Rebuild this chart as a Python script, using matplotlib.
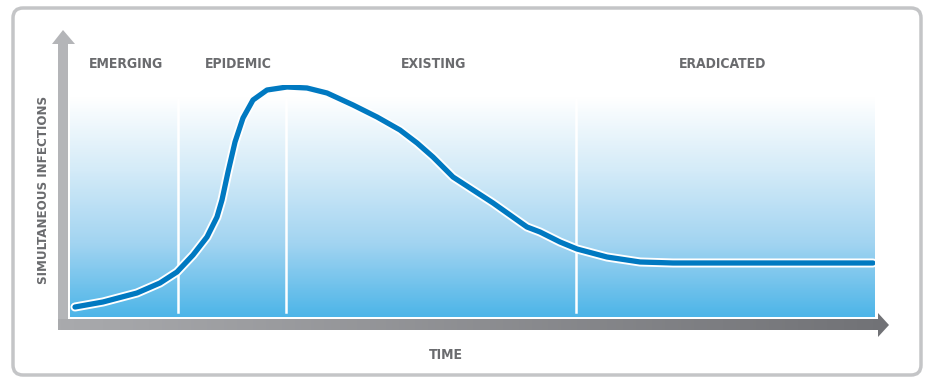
import numpy as np
import matplotlib
matplotlib.use('Agg')
import matplotlib.pyplot as plt
import matplotlib.patheffects as pe
from matplotlib.colors import LinearSegmentedColormap
from matplotlib.patches import FancyBboxPatch, Polygon

# phases, their label positions and the dividers between them (time axis 0-100)
phases = ['EMERGING', 'EPIDEMIC', 'EXISTING', 'ERADICATED']
phase_label_x = [7.0, 20.9, 45.2, 81.1]
phase_dividers = [13.4, 26.8, 62.9]

# simultaneous infections over time (arbitrary units, peak ~100)
time = [0.62, 4.10, 8.32, 11.18, 13.29, 15.28, 17.02, 18.26, 18.88, 19.63,
        20.50, 21.49, 22.73, 24.47, 26.96, 29.44, 31.93, 35.16, 38.14, 40.99,
        43.11, 45.09, 47.58, 52.55, 56.77, 58.39, 60.87, 62.98, 66.71, 70.81,
        74.91, 79.13, 99.75]
infections = [4.31, 6.47, 10.34, 14.66, 19.40, 26.72, 34.48, 43.10, 50.43, 62.50,
              75.43, 85.78, 93.53, 97.84, 99.14, 98.71, 96.55, 91.38, 86.21, 80.60,
              75.00, 68.97, 60.34, 49.14, 38.79, 36.64, 32.33, 29.31, 25.86, 23.71,
              23.28, 23.28, 23.28]

W, H = 929, 377
fig = plt.figure(figsize=(W / 100, H / 100), dpi=100)

# background layer in pixel units for the frame and the axis arrows
bg = fig.add_axes([0, 0, 1, 1])
bg.set_xlim(0, W)
bg.set_ylim(H, 0)
bg.axis('off')

frame = FancyBboxPatch((13, 8), 908, 367, boxstyle='round,pad=0,rounding_size=10',
                       fc='white', ec='#c4c5c7', lw=2.5)
bg.add_patch(frame)

# y arrow (light gray) and x arrow (gray gradient)
bg.add_patch(Polygon([[58, 330], [58, 44], [52, 44], [63, 30], [75, 44], [68, 44], [68, 330]],
                     closed=True, fc='#b4b5b8', ec='none'))
arrow = Polygon([[58, 319], [878, 319], [878, 313], [889, 325], [878, 337], [878, 330], [58, 330]],
                closed=True, fc='none', ec='none')
bg.add_patch(arrow)
xgrad = np.linspace(0, 1, 256).reshape(1, -1)
im = bg.imshow(xgrad, extent=[58, 889, 337, 313], aspect='auto',
               cmap=LinearSegmentedColormap.from_list('g', ['#a9aaad', '#717276']), zorder=1)
im.set_clip_path(arrow)

label_kw = dict(family='DejaVu Sans', stretch='condensed', weight='bold', color='#6a6b6e')
bg.text(44, 190, 'SIMULTANEOUS INFECTIONS', rotation=90, ha='center', va='center',
        fontsize=9.5, **label_kw)
bg.text(446, 355, 'TIME', ha='center', va='center', fontsize=10, **label_kw)

# plot area
x0, x1, ybot, ytop = 70, 875, 317, 85
ax = fig.add_axes([x0 / W, (H - ybot) / H, (x1 - x0) / W, (ybot - ytop) / H])
ax.set_xlim(0, 100)
ax.set_ylim(0, 100)
ax.axis('off')

# white-to-blue vertical gradient, fully white near the top
g = np.linspace(0, 1, 256)
g = np.clip((g - 0.05) / 0.95, 0, 1).reshape(-1, 1)
blue = LinearSegmentedColormap.from_list('b', ['#ffffff', '#d4ebf8', '#a2d4f1', '#4db5e8'])
ax.imshow(g, extent=[0, 100, 0, 100], origin='upper', aspect='auto', cmap=blue, zorder=0)

for xe in phase_dividers:
    ax.plot([xe, xe], [2, 94], color='white', lw=1.8, zorder=1)

for name, xl in zip(phases, phase_label_x):
    ax.text(xl, 109, name, ha='center', va='center', fontsize=10,
            clip_on=False, **label_kw)

ax.plot(time, infections, color='#0079c1', lw=3.8, solid_capstyle='round',
        solid_joinstyle='round', zorder=3,
        path_effects=[pe.Stroke(linewidth=6.5, foreground='white'), pe.Normal()])

fig.savefig('out.png', dpi=100)
